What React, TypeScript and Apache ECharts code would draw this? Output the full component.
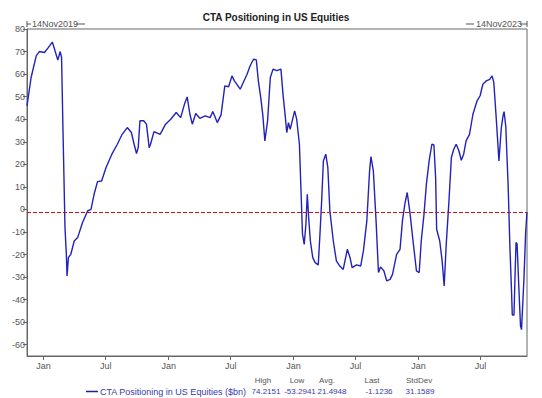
import React, { useEffect, useRef } from "react";
import * as echarts from "echarts";

const title = "CTA Positioning in US Equities";
const seriesName = "CTA Positioning in US Equities ($bn)";
const startLabel = "14Nov2019";
const endLabel = "14Nov2023";
const startDate = "2019-11-14";
const endDate = "2023-11-14";

const dates: string[] = [
  "2019-11-14","2019-11-26","2019-12-11","2019-12-20","2020-01-04","2020-01-14","2020-01-27","2020-02-01",
  "2020-02-12","2020-02-19","2020-02-23","2020-02-27","2020-03-04","2020-03-08","2020-03-10","2020-03-14",
  "2020-03-21","2020-03-31","2020-04-10","2020-04-24","2020-05-09","2020-05-19","2020-05-28","2020-06-07",
  "2020-06-19","2020-07-02","2020-07-19","2020-08-04","2020-08-18","2020-09-02","2020-09-14","2020-09-22",
  "2020-09-29","2020-10-04","2020-10-09","2020-10-20","2020-10-28","2020-11-05","2020-11-09","2020-11-19",
  "2020-12-07","2020-12-23","2021-01-07","2021-01-23","2021-02-05","2021-02-16","2021-02-24","2021-03-04",
  "2021-03-11","2021-03-21","2021-04-02","2021-04-18","2021-05-02","2021-05-10","2021-05-23","2021-06-03",
  "2021-06-14","2021-06-25","2021-07-05","2021-07-12","2021-07-29","2021-08-18","2021-08-27","2021-09-06",
  "2021-09-14","2021-09-20","2021-09-27","2021-10-03","2021-10-09","2021-10-17","2021-10-25","2021-11-02",
  "2021-11-13","2021-11-25","2021-12-01","2021-12-08","2021-12-12","2021-12-17","2021-12-22","2022-01-04",
  "2022-01-10","2022-01-18","2022-01-23","2022-01-27","2022-02-01","2022-02-06","2022-02-10","2022-02-14",
  "2022-02-19","2022-02-26","2022-03-05","2022-03-14","2022-03-19","2022-03-24","2022-03-29","2022-04-05",
  "2022-04-11","2022-04-17","2022-04-27","2022-05-06","2022-05-16","2022-05-26","2022-06-07","2022-06-15",
  "2022-06-21","2022-07-04","2022-07-16","2022-07-24","2022-08-03","2022-08-11","2022-08-15","2022-08-22",
  "2022-08-30","2022-09-06","2022-09-12","2022-09-22","2022-09-30","2022-10-10","2022-10-17","2022-10-29",
  "2022-11-08","2022-11-15","2022-11-22","2022-11-29","2022-12-07","2022-12-16","2022-12-26","2023-01-03",
  "2023-01-09","2023-01-17","2023-01-24","2023-02-01","2023-02-09","2023-02-15","2023-02-20","2023-02-23",
  "2023-03-04","2023-03-11","2023-03-17","2023-03-23","2023-03-31","2023-04-07","2023-04-14","2023-04-21",
  "2023-04-29","2023-05-06","2023-05-13","2023-05-20","2023-05-30","2023-06-09","2023-06-21","2023-06-30",
  "2023-07-08","2023-07-18","2023-07-28","2023-08-04","2023-08-09","2023-08-16","2023-08-24","2023-08-31",
  "2023-09-05","2023-09-08","2023-09-13","2023-09-20","2023-09-25","2023-09-30","2023-10-02","2023-10-07",
  "2023-10-10","2023-10-13","2023-10-16","2023-10-21","2023-10-26","2023-10-29","2023-11-05","2023-11-10",
  "2023-11-14"
];

const values: number[] = [
  45.9, 58.5, 68.1, 70.0, 69.6, 71.5, 74.2151, 71.8,
  66.2, 70.0, 67.4, 36.3, -8.0, -19.9, -29.5, -21.4,
  -19.9, -14.0, -12.5, -5.9, -0.7, 0.0, 6.7, 12.3,
  12.6, 18.6, 24.5, 28.9, 33.3, 36.3, 34.1, 28.9,
  24.8, 27.4, 39.3, 39.3, 37.8, 27.4, 28.9, 34.5,
  33.3, 37.8, 40.0, 43.0, 40.7, 46.6, 49.9, 42.2,
  37.8, 42.5, 40.4, 41.5, 40.7, 43.4, 38.5, 41.9,
  54.8, 54.4, 59.2, 57.0, 53.3, 59.9, 63.7, 66.6,
  66.3, 57.0, 49.6, 41.9, 30.4, 39.3, 58.5, 62.2,
  61.5, 62.2, 51.1, 40.7, 34.1, 38.5, 35.5, 43.7,
  40.0, 28.9, 6.7, -11.0, -15.5, -6.6, 6.7, -3.6,
  -14.0, -21.4, -23.6, -24.6, -11.0, 3.8, 21.5, 24.5,
  18.6, -0.7, -14.0, -22.8, -25.1, -26.6, -17.7, -21.4,
  -25.8, -24.6, -25.1, -18.4, -5.1, 17.1, 23.4, 17.1,
  -5.1, -28.0, -25.5, -27.3, -31.7, -31.0, -28.8, -19.9,
  -17.7, -5.1, 2.3, 7.5, -1.4, -14.0, -27.3, -28.0,
  -14.0, -2.2, 11.1, 21.5, 28.9, 28.6, 14.1, -8.8,
  -14.0, -22.8, -33.9, -15.5, 3.8, 23.0, 26.7, 28.9,
  26.0, 21.8, 24.5, 30.4, 33.3, 42.2, 48.1, 50.4,
  55.5, 57.0, 57.7, 59.2, 56.3, 40.7, 21.5, 36.3,
  41.5, 43.4, 36.8, 10.2, -16.4, -37.1, -46.8, -46.8,
  -29.5, -14.7, -15.2, -34.0, -51.6, -53.2941, -31.0, -10.4,
  -1.1236
];

const statHeaders = ["High", "Low", "Avg.", "Last", "StdDev"];
const statValues = ["74.2151", "-53.2941", "21.4948", "-1.1236", "31.1589"];
const lastValue = -1.1236;

const yTicks = [-60, -50, -40, -30, -20, -10, 0, 10, 20, 30, 40, 50, 60, 70, 80];
const xTickMonths: [number, number][] = [
  [2020, 0], [2020, 6], [2021, 0], [2021, 6], [2022, 0], [2022, 6], [2023, 0], [2023, 6]
];

const FONT = "'Liberation Sans', Arial, sans-serif";
const GRAY = "#555555";
const LEG = "#3a3aa8";

export default function App() {
  const ref = useRef<HTMLDivElement>(null);
  useEffect(() => {
    if (!ref.current) return;
    const chart = echarts.init(ref.current, null, { renderer: "svg" });
    const xTickValues = xTickMonths.map(([y, m]) => new Date(y, m, 1).getTime());
    const parse = (s: string) => {
      const [y, m, d] = s.split("-").map(Number);
      return new Date(y, m - 1, d).getTime();
    };
    const data = dates.map((d, i) => [parse(d), values[i]]);

    const headerCenters = [263, 297, 327, 372, 419];
    const valueCenters = [266, 300, 332, 379, 420];

    chart.setOption({
      animation: false,
      title: {
        text: title,
        left: 271,
        top: 7,
        textAlign: "center",
        textStyle: { fontFamily: FONT, fontSize: 10, fontWeight: "bold", color: "#222" },
      },
      grid: {
        left: 27, right: 15, top: 29, bottom: 42,
        show: true, borderColor: "#666", borderWidth: 1, backgroundColor: "#fff",
      },
      xAxis: {
        type: "value",
        min: parse(startDate),
        max: parse(endDate),
        splitLine: { show: false },
        axisLine: { show: true, onZero: false, lineStyle: { color: "#666" } },
        axisTick: { show: true, length: 4, customValues: xTickValues, lineStyle: { color: "#666" } },
        axisLabel: {
          customValues: xTickValues,
          formatter: (v: number) => (new Date(v).getMonth() === 0 ? "Jan" : "Jul"),
          fontFamily: FONT, fontSize: 9, color: GRAY, margin: 5,
        },
      },
      yAxis: {
        type: "value",
        min: -65,
        max: 80,
        splitLine: { show: false },
        axisLine: { show: true, onZero: false, lineStyle: { color: "#666" } },
        axisTick: { show: true, length: 4, customValues: yTicks, lineStyle: { color: "#666" } },
        axisLabel: { customValues: yTicks, fontFamily: FONT, fontSize: 9, color: GRAY, margin: 2 },
      },
      series: [
        {
          type: "line",
          name: seriesName,
          data,
          showSymbol: false,
          lineStyle: { color: "#2222bb", width: 1.4 },
          markLine: {
            silent: true,
            symbol: "none",
            label: { show: false },
            lineStyle: { color: "#cc1111", type: [4, 2], width: 1 },
            data: [{ yAxis: lastValue }],
          },
        },
      ],
      graphic: [
        { type: "line", shape: { x1: 27, y1: 21, x2: 27, y2: 27 }, style: { stroke: GRAY, lineWidth: 1 } },
        { type: "line", shape: { x1: 27, y1: 24, x2: 31, y2: 24 }, style: { stroke: GRAY, lineWidth: 1 } },
        { type: "text", x: 32, y: 24, style: { text: startLabel, fontFamily: FONT, fontSize: 9, fill: GRAY, textVerticalAlign: "middle" } },
        { type: "line", shape: { x1: 76, y1: 24, x2: 85, y2: 24 }, style: { stroke: GRAY, lineWidth: 1 } },
        { type: "line", shape: { x1: 466, y1: 24, x2: 474, y2: 24 }, style: { stroke: GRAY, lineWidth: 1 } },
        { type: "text", x: 476, y: 24, style: { text: endLabel, fontFamily: FONT, fontSize: 9, fill: GRAY, textVerticalAlign: "middle" } },
        { type: "line", shape: { x1: 520, y1: 24, x2: 527, y2: 24 }, style: { stroke: GRAY, lineWidth: 1 } },
        { type: "line", shape: { x1: 527, y1: 21, x2: 527, y2: 27 }, style: { stroke: GRAY, lineWidth: 1 } },
        { type: "line", shape: { x1: 86, y1: 391.5, x2: 98, y2: 391.5 }, style: { stroke: "#1f1f90", lineWidth: 1.5 } },
        { type: "text", x: 100, y: 391.5, style: { text: seriesName, fontFamily: FONT, fontSize: 9, fill: LEG, textVerticalAlign: "middle" } },
        ...statHeaders.map((h, i) => ({
          type: "text", x: headerCenters[i], y: 380,
          style: { text: h, fontFamily: FONT, fontSize: 8, fill: GRAY, textAlign: "center", textVerticalAlign: "middle" },
        })),
        ...statValues.map((v, i) => ({
          type: "text", x: valueCenters[i], y: 391.5,
          style: { text: v, fontFamily: FONT, fontSize: 8, fill: LEG, textAlign: "center", textVerticalAlign: "middle" },
        })),
      ],
    });
    return () => chart.dispose();
  }, []);
  return (
    <div
      ref={ref}
      style={{ position: "fixed", left: 0, top: 0, width: 542, height: 398, background: "#fff" }}
    />
  );
}
